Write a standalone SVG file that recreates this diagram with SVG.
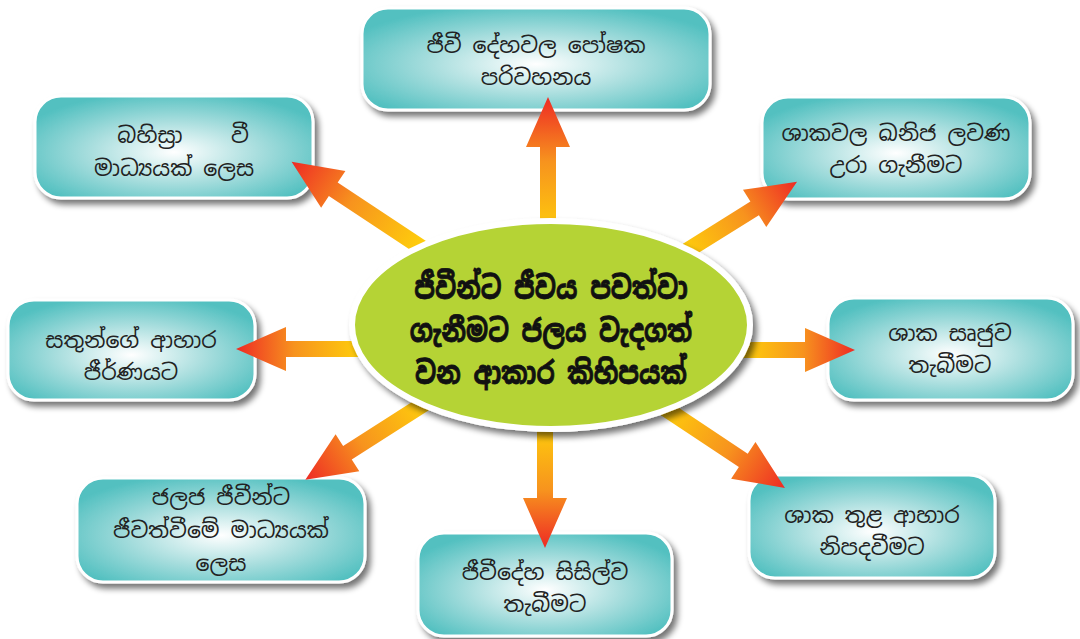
<svg xmlns="http://www.w3.org/2000/svg" width="1080" height="639" viewBox="0 0 1080 639">
<defs>
<radialGradient id="boxg" cx="50%" cy="55%" r="60%">
<stop offset="0" stop-color="#FFFFFF"/>
<stop offset="0.5" stop-color="#A9DEDE"/>
<stop offset="1" stop-color="#52C0C0"/>
</radialGradient>
<filter id="sh" x="-10%" y="-10%" width="125%" height="130%">
<feGaussianBlur in="SourceAlpha" stdDeviation="3"/>
<feOffset dx="4" dy="5" result="b"/>
<feComponentTransfer><feFuncA type="linear" slope="0.55"/></feComponentTransfer>
<feMerge><feMergeNode/><feMergeNode in="SourceGraphic"/></feMerge>
</filter>
<linearGradient id="ag" gradientUnits="objectBoundingBox" x1="0" y1="0" x2="1" y2="0">
<stop offset="0" stop-color="#FFD20A"/>
<stop offset="0.55" stop-color="#F7931E"/>
<stop offset="1" stop-color="#EE2A24"/>
</linearGradient>
</defs>
<style>
.box{fill:url(#boxg);stroke:#FFFFFF;stroke-width:3;filter:url(#sh)}
.t{font-family:"Noto Sans Sinhala","Noto Serif Sinhala","Iskoola Pota","Noto Sans",sans-serif;font-size:22px;fill:#222222;text-anchor:middle}
.c{font-family:"Noto Sans Sinhala","Noto Serif Sinhala","Iskoola Pota","Noto Sans",sans-serif;font-size:24px;font-weight:bold;fill:#111111;stroke:#111111;stroke-width:0.6;text-anchor:middle}
.arr{fill:url(#ag)}
</style>
<rect width="1080" height="639" fill="#FFFFFF"/>

<g id="n-top"><rect class="box" x="362" y="8" width="348" height="102" rx="26"/>
<text class="t" x="536" y="53">ජීවී දේහවල පෝෂක</text><text class="t" x="536" y="85">පරිවහනය</text></g>
<g id="n-topleft"><rect class="box" x="35" y="96" width="278" height="102" rx="26"/>
<text class="t" x="150" y="143">බහිස්‍රා</text><text class="t" x="240" y="143">වී</text><text class="t" x="174" y="176">මාධ්‍යයක් ලෙස</text></g>
<g id="n-topright"><rect class="box" x="762" y="97" width="268" height="102" rx="26"/>
<text class="t" x="896" y="141">ශාකවල ඛනිජ ලවණ</text><text class="t" x="896" y="173">උරා ගැනීමට</text></g>
<g id="n-left"><rect class="box" x="8" y="300" width="247" height="100" rx="26"/>
<text class="t" x="131" y="348">සතුන්ගේ ආහාර</text><text class="t" x="131" y="380">ජීර්ණයට</text></g>
<g id="n-right"><rect class="box" x="828" y="298" width="245" height="102" rx="26"/>
<text class="t" x="950" y="341">ශාක සෘජුව</text><text class="t" x="950" y="373">තැබීමට</text></g>
<g id="n-bottomleft"><rect class="box" x="77" y="478" width="288" height="104" rx="26"/>
<text class="t" x="221" y="505">ජලජ ජීවීන්ට</text><text class="t" x="221" y="538">ජීවත්වීමේ මාධ්‍යයක්</text><text class="t" x="221" y="571">ලෙස</text></g>
<g id="n-bottom"><rect class="box" x="418" y="533" width="254" height="103" rx="26"/>
<text class="t" x="545" y="580">ජීවීදේහ සිසිල්ව</text><text class="t" x="545" y="612">තැබීමට</text></g>
<g id="n-bottomright"><rect class="box" x="749" y="475" width="246" height="103" rx="26"/>
<text class="t" x="872" y="523">ශාක තුළ ආහාර</text><text class="t" x="872" y="555">නිපදවීමට</text></g>

<g id="connectors">
<polygon class="arr" transform="translate(548,240) rotate(-90)" points="0,-8 93,-8 93,-22 143,0 93,22 93,8 0,8"/>
<polygon class="arr" transform="translate(425,250) rotate(213.5)" points="0,-8 110,-8 110,-22 160,0 110,22 110,8 0,8"/>
<polygon class="arr" transform="translate(680,255) rotate(-32)" points="0,-8 88,-8 88,-22 138,0 88,22 88,8 0,8"/>
<polygon class="arr" transform="translate(365,349) rotate(180)" points="0,-8 79,-8 79,-22 129,0 79,22 79,8 0,8"/>
<polygon class="arr" transform="translate(740,350)" points="0,-8 65,-8 65,-22 115,0 65,22 65,8 0,8"/>
<polygon class="arr" transform="translate(430,400) rotate(147.4)" points="0,-8 98,-8 98,-22 148,0 98,22 98,8 0,8"/>
<polygon class="arr" transform="translate(545,420) rotate(90)" points="0,-8 78,-8 78,-22 128,0 78,22 78,8 0,8"/>
<polygon class="arr" transform="translate(660,405) rotate(33.6)" points="0,-8 100,-8 100,-22 150,0 100,22 100,8 0,8"/>
</g>

<g id="n-center">
<ellipse cx="551" cy="325" rx="199" ry="104" fill="#B5D334" stroke="#FFFFFF" stroke-width="6" filter="url(#sh)"/>
<text class="c" transform="translate(551,299) scale(1.05,1.3)">ජීවීන්ට ජීවය පවත්වා</text>
<text class="c" transform="translate(551,342) scale(1.05,1.3)">ගැනීමට ජලය වැදගත්</text>
<text class="c" transform="translate(551,384) scale(1.05,1.3)">වන ආකාර කිහිපයක්</text>
</g>
</svg>
